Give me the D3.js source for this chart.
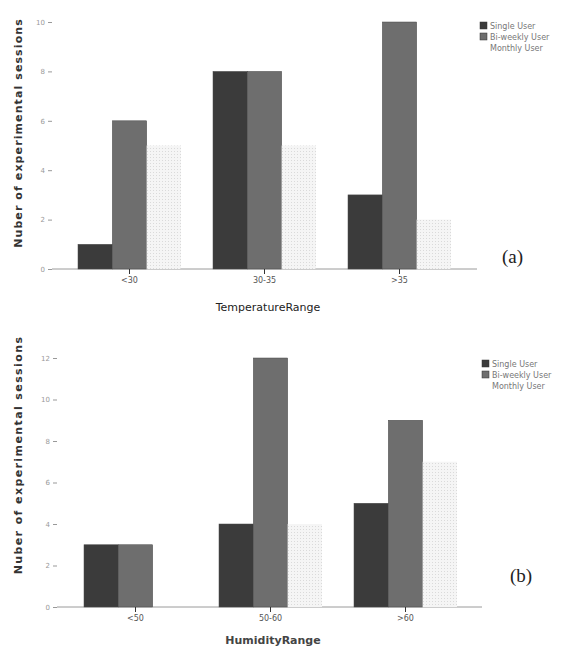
<!DOCTYPE html>
<html>
<head>
<meta charset="utf-8">
<script src="https://cdn.jsdelivr.net/npm/d3@7"></script>
<style>
  body { margin: 0; background: #fff; }
  text { font-family: "DejaVu Sans", sans-serif; }
</style>
</head>
<body>
<div id="chart"></div>
<script>
// data
var seriesNames = ["Single User", "Bi-weekly User", "Monthly User"];
var seriesColors = ["#3b3b3b", "#6e6e6e", "#ececec"];

var tempCategories = ["<30", "30-35", ">35"];
var tempSingle = [1, 8, 3];
var tempBiweekly = [6, 8, 10];
var tempMonthly = [5, 5, 2];
var tempTicks = [0, 2, 4, 6, 8, 10];

var humCategories = ["<50", "50-60", ">60"];
var humSingle = [3, 4, 5];
var humBiweekly = [3, 12, 9];
var humMonthly = [0, 4, 7];
var humTicks = [0, 2, 4, 6, 8, 10, 12];

var svg = d3.select("#chart").append("svg")
   .attr("width", 572)
   .attr("height", 653);

// light stipple for the monthly bars
var pat = svg.append("defs").append("pattern")
   .attr("id", "stipple")
   .attr("width", 3).attr("height", 3)
   .attr("patternUnits", "userSpaceOnUse");
pat.append("rect").attr("width", 3).attr("height", 3).attr("fill", "#f5f5f5");
pat.append("rect").attr("x", 1).attr("y", 1).attr("width", 1).attr("height", 1).attr("fill", "#dadada");

function drawPanel(opts) {
   var g = svg.append("g");

   var x0 = d3.scaleBand()
      .domain(opts.categories)
      .range([opts.left, opts.left + 135 * opts.categories.length])
      .padding(0);

   var x1 = d3.scaleBand()
      .domain(seriesNames)
      .range([(135 - 103) / 2, (135 + 103) / 2])
      .padding(0);

   var y = d3.scaleLinear()
      .domain([0, opts.max])
      .range([opts.bottom, opts.top]);

   // baseline
   g.append("line")
      .attr("x1", opts.axisX)
      .attr("x2", opts.lineEnd)
      .attr("y1", y(0))
      .attr("y2", y(0))
      .attr("stroke", "#9a9a9a")
      .attr("stroke-width", 1);

   var rows = opts.categories.map(function (c, i) {
      return { cat: c, values: [opts.single[i], opts.biweekly[i], opts.monthly[i]] };
   });

   var groups = g.selectAll(".grp")
      .data(rows)
      .enter().append("g")
      .attr("transform", function (d) { return "translate(" + x0(d.cat) + ",0)"; });

   groups.selectAll("rect")
      .data(function (d) {
         return d.values.map(function (v, j) { return { name: seriesNames[j], value: v, idx: j }; });
      })
      .enter().append("rect")
      .attr("x", function (d) { return x1(d.name); })
      .attr("width", x1.bandwidth())
      .attr("y", function (d) { return y(d.value); })
      .attr("height", function (d) { return y(0) - y(d.value); })
      .attr("fill", function (d) { return d.idx === 2 ? "url(#stipple)" : seriesColors[d.idx]; })
      .attr("stroke", function (d) { return d.idx === 2 ? "none" : "#4a4a4a"; })
      .attr("stroke-width", 0.5);

   // y axis
   var yAxis = g.append("g")
      .attr("transform", "translate(" + opts.axisX + ",0)")
      .call(d3.axisLeft(y).tickValues(opts.ticks).tickSize(4).tickPadding(3));
   yAxis.select(".domain").remove();
   yAxis.selectAll("line").attr("stroke", "#999");
   yAxis.selectAll("text").attr("fill", "#999").style("font-size", "7px");

   // x axis
   var xAxis = g.append("g")
      .attr("transform", "translate(0," + y(0) + ")")
      .call(d3.axisBottom(x0).tickSize(5).tickPadding(3));
   xAxis.select(".domain").remove();
   xAxis.selectAll("line").attr("stroke", "#333");
   xAxis.selectAll("text").attr("fill", "#555").style("font-size", "8px");

   // axis titles
   g.append("text")
      .attr("x", opts.xTitleX)
      .attr("y", opts.xTitleY)
      .attr("text-anchor", "middle")
      .attr("fill", opts.xTitleBold ? "#444" : "#222")
      .style("font-size", "11px")
      .style("font-weight", opts.xTitleBold ? "bold" : "normal")
      .text(opts.xTitle);

   g.append("text")
      .attr("transform", "translate(" + opts.yTitleX + "," + opts.yTitleY + ") rotate(-90)")
      .attr("text-anchor", "middle")
      .attr("fill", "#333")
      .style("font-size", "11px")
      .style("font-weight", "bold")
      .style("letter-spacing", opts.yTitleSpacing)
      .text("Nuber of experimental sessions");

   // legend
   var legend = g.append("g")
      .attr("transform", "translate(" + opts.legendX + "," + opts.legendY + ")");
   seriesNames.forEach(function (name, i) {
      if (i < 2) {
         legend.append("rect")
            .attr("x", 0)
            .attr("y", i * 11 - 6)
            .attr("width", 7)
            .attr("height", 7)
            .attr("fill", seriesColors[i])
            .attr("stroke", "#333")
            .attr("stroke-width", 0.5);
      }
      legend.append("text")
         .attr("x", 10)
         .attr("y", i * 11 + 1)
         .attr("fill", "#777")
         .style("font-size", "8px")
         .text(name);
   });

   // panel label
   g.append("text")
      .attr("x", opts.labelX)
      .attr("y", opts.labelY)
      .attr("fill", "#222")
      .style("font-family", "'Liberation Serif', serif")
      .style("font-size", "19px")
      .text(opts.label);
}

drawPanel({
   categories: tempCategories,
   single: tempSingle,
   biweekly: tempBiweekly,
   monthly: tempMonthly,
   ticks: tempTicks,
   max: 10,
   top: 22,
   bottom: 269,
   left: 62,
   axisX: 52,
   lineEnd: 477,
   xTitle: "TemperatureRange",
   xTitleBold: false,
   xTitleX: 268,
   xTitleY: 311,
   yTitleX: 22,
   yTitleY: 133,
   yTitleSpacing: "1.1px",
   legendX: 480,
   legendY: 28,
   label: "(a)",
   labelX: 502,
   labelY: 263
});

drawPanel({
   categories: humCategories,
   single: humSingle,
   biweekly: humBiweekly,
   monthly: humMonthly,
   ticks: humTicks,
   max: 12,
   top: 358,
   bottom: 607,
   left: 68,
   axisX: 57,
   lineEnd: 482,
   xTitle: "HumidityRange",
   xTitleBold: true,
   xTitleX: 273,
   xTitleY: 644,
   yTitleX: 22,
   yTitleY: 455,
   yTitleSpacing: "1.4px",
   legendX: 482,
   legendY: 366,
   label: "(b)",
   labelX: 510,
   labelY: 582
});
</script>
</body>
</html>
